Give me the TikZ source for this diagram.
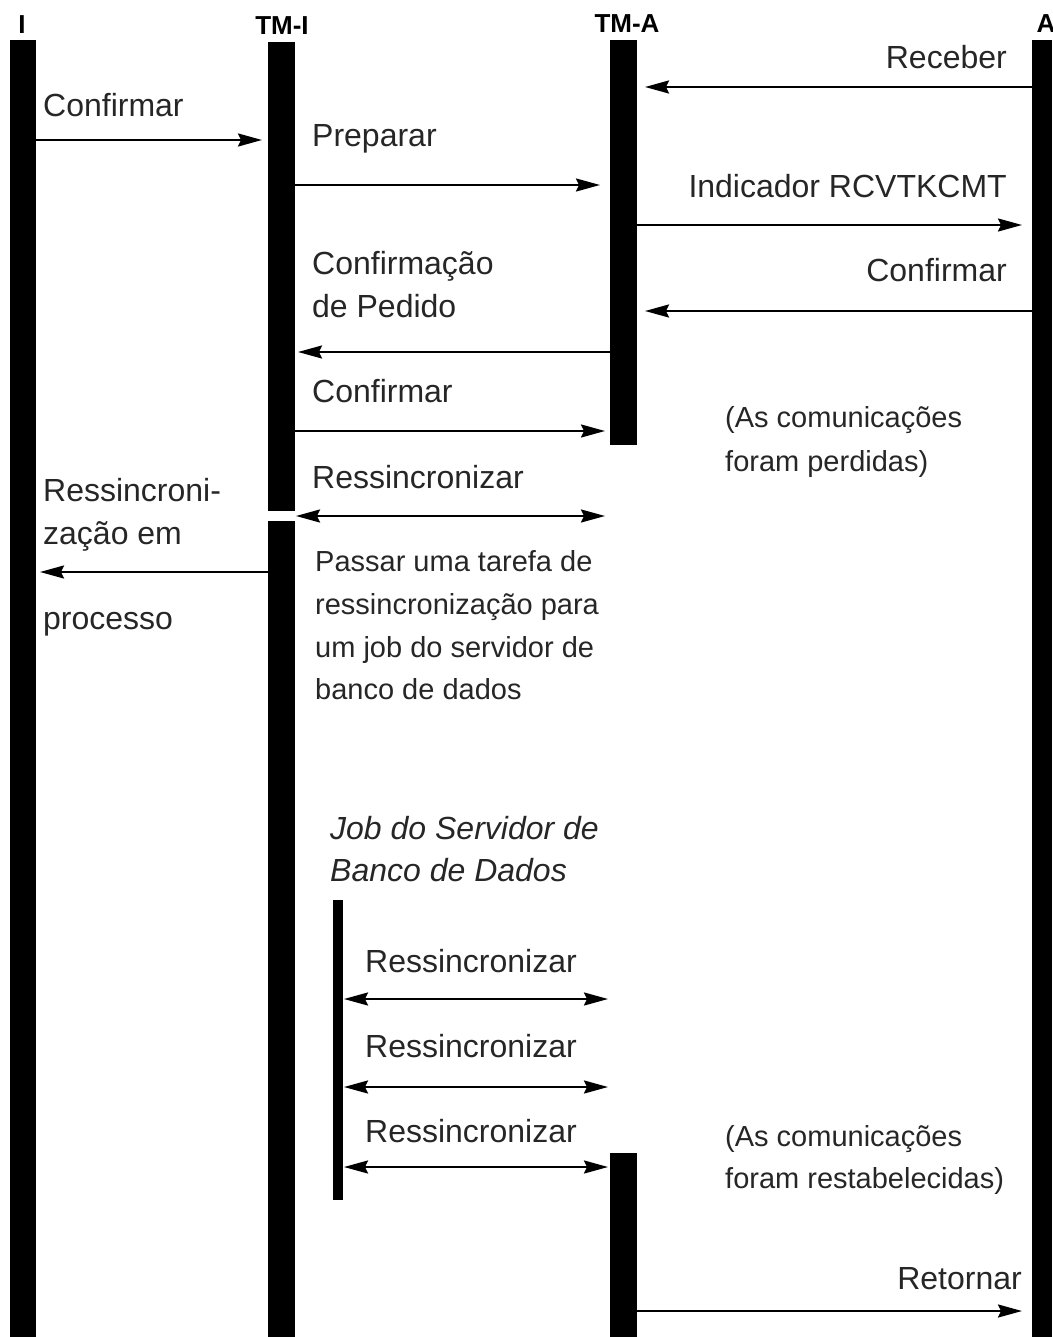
\documentclass[tikz,border=0pt]{standalone}
\usepackage{fontspec}
\setmainfont{Liberation Sans}
\usetikzlibrary{arrows.meta}
\begin{document}
\begin{tikzpicture}[x=1pt,y=-1pt,
  lbl/.style={font=\fontsize{32}{38}\selectfont, anchor=base west, inner sep=0pt, text=black!85},
  lblr/.style={lbl, anchor=base east},
  note/.style={font=\fontsize{29}{35}\selectfont, anchor=base west, inner sep=0pt, text=black!85},
  head/.style={font=\bfseries\fontsize{26}{30}\selectfont, anchor=base, inner sep=0pt},
  bar/.style={fill=black},
  tip/.tip={Stealth[length=24pt,width=13pt,inset=3pt]},
  msg/.style={line width=2.2pt, -tip},
  msgtwo/.style={line width=2.2pt, tip-tip},
]
\useasboundingbox (0,0) rectangle (1052,1337);

% lifeline headers
\node[head] (hI) at (22,34) {I};
\node[head] (hTMI) at (282,35) {TM-I};
\node[head] (hTMA) at (627,33) {TM-A};
\node[head] (hA) at (1046,33) {A};

% bars
\fill[bar] (10,40) rectangle (36,1337);
\fill[bar] (268,42) rectangle (295,511);
\fill[bar] (268,521) rectangle (295,1337);
\fill[bar] (610,40) rectangle (637,445);
\fill[bar] (610,1153) rectangle (637,1337);
\fill[bar] (1032,40) rectangle (1052,1337);
\fill[bar] (333,900) rectangle (343,1200);

% endpoints
\coordinate (c1s) at (36,140);   \coordinate (c1e) at (262,140);
\coordinate (p1s) at (295,185);  \coordinate (p1e) at (600,185);
\coordinate (r1s) at (1032,87);  \coordinate (r1e) at (645,87);
\coordinate (i1s) at (637,225);  \coordinate (i1e) at (1022,225);
\coordinate (c2s) at (1032,311); \coordinate (c2e) at (645,311);
\coordinate (cp1s) at (610,352); \coordinate (cp1e) at (298,352);
\coordinate (c3s) at (295,431);  \coordinate (c3e) at (605,431);
\coordinate (rs1s) at (296,516); \coordinate (rs1e) at (605,516);
\coordinate (rz1s) at (268,572); \coordinate (rz1e) at (40,572);
\coordinate (j1s) at (344,999);  \coordinate (j1e) at (608,999);
\coordinate (j2s) at (344,1087); \coordinate (j2e) at (608,1087);
\coordinate (j3s) at (344,1167); \coordinate (j3e) at (608,1167);
\coordinate (rts) at (637,1311); \coordinate (rte) at (1022,1311);

% messages
\draw[msg] (c1s) -- (c1e);
\draw[msg] (p1s) -- (p1e);
\draw[msg] (r1s) -- (r1e);
\draw[msg] (i1s) -- (i1e);
\draw[msg] (c2s) -- (c2e);
\draw[msg] (cp1s) -- (cp1e);
\draw[msg] (c3s) -- (c3e);
\draw[msgtwo] (rs1s) -- (rs1e);
\draw[msg] (rz1s) -- (rz1e);
\draw[msgtwo] (j1s) -- (j1e);
\draw[msgtwo] (j2s) -- (j2e);
\draw[msgtwo] (j3s) -- (j3e);
\draw[msg] (rts) -- (rte);

% labels
\node[lbl] (l1) at (43,117) {Confirmar};
\node[lbl] (l2) at (312,147) {Preparar};
\node[lblr] (l3) at (1007,69) {Receber};
\node[lblr] (l4) at (1007,198) {Indicador RCVTKCMT};
\node[lbl] (l5a) at (312,275) {Confirmação};
\node[lbl] (l5b) at (312,317) {de Pedido};
\node[lblr] (l6) at (1007,282) {Confirmar};
\node[lbl] (l7) at (312,402) {Confirmar};
\node[note] (n1a) at (725,427) {(As comunicações};
\node[note] (n1b) at (725,471) {foram perdidas)};
\node[lbl] (l8) at (312,488) {Ressincronizar};
\node[lbl] (l9a) at (43,501) {Ressincroni-};
\node[lbl] (l9b) at (43,544) {zação em};
\node[lbl] (l9c) at (43,629) {processo};
\node[note] (n2a) at (315,571) {Passar uma tarefa de};
\node[note] (n2b) at (315,614) {ressincronização para};
\node[note] (n2c) at (315,657) {um job do servidor de};
\node[note] (n2d) at (315,699) {banco de dados};
\node[lbl,font=\itshape\fontsize{32}{38}\selectfont] (jt1) at (330,839) {Job do Servidor de};
\node[lbl,font=\itshape\fontsize{32}{38}\selectfont] (jt2) at (330,881) {Banco de Dados};
\node[lbl] (j1l) at (365,972) {Ressincronizar};
\node[lbl] (j2l) at (365,1057) {Ressincronizar};
\node[lbl] (j3l) at (365,1142) {Ressincronizar};
\node[note] (n3a) at (725,1146) {(As comunicações};
\node[note] (n3b) at (725,1188) {foram restabelecidas)};
\node[lblr] (l10) at (1022,1289) {Retornar};
\end{tikzpicture}
\end{document}
